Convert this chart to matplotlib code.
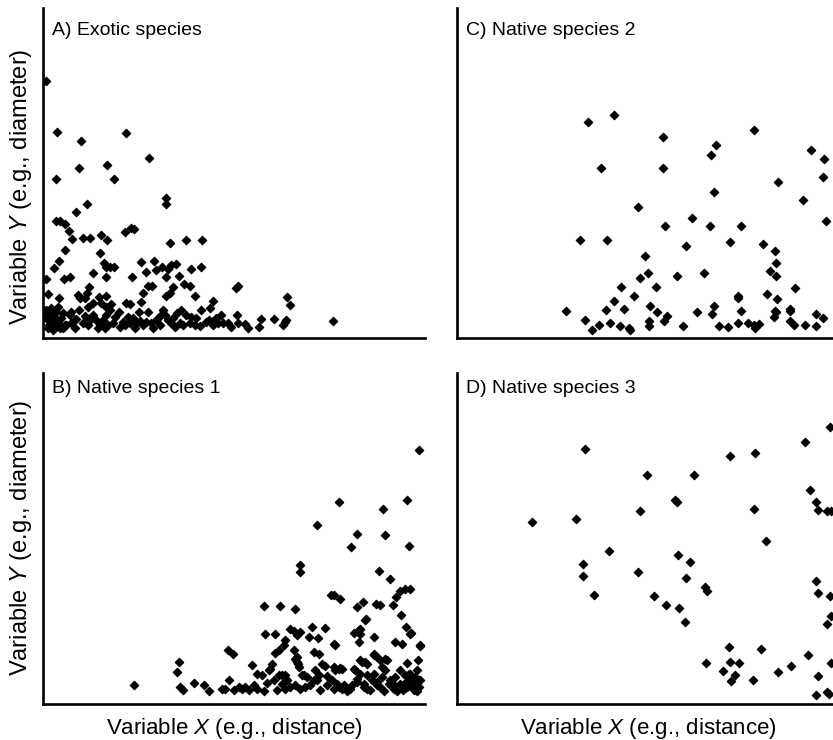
import matplotlib.pyplot as plt
import numpy as np

plt.rcParams['font.family'] = ['Liberation Sans', 'DejaVu Sans']
plt.rcParams['mathtext.fontset'] = 'custom'
plt.rcParams['mathtext.it'] = 'Liberation Sans:italic'
plt.rcParams['mathtext.rm'] = 'Liberation Sans'

# (distance, diameter) readings, arbitrary units; axes run 0-1146 by 0-991
exotic = [
    (8, 772), (42, 620), (115, 593), (248, 615), (317, 542), (108, 512), (193, 520), (39, 478), (213, 478),
    (370, 420), (370, 402), (131, 402), (98, 378), (38, 352), (50, 352), (65, 343), (77, 323), (87, 298),
    (120, 300), (140, 300), (175, 310), (193, 295), (245, 318), (265, 330), (273, 327), (382, 287),
    (430, 295), (477, 295), (65, 265), (172, 255), (47, 233), (32, 210), (183, 225), (190, 215),
    (202, 215), (212, 215), (293, 229), (333, 232), (358, 215), (375, 207), (385, 220), (400, 222),
    (445, 209), (475, 213), (8, 179), (63, 177), (80, 183), (150, 195), (190, 183), (268, 183),
    (310, 199), (340, 205), (370, 185), (407, 187), (422, 163), (442, 158), (578, 152), (586, 158),
    (315, 158), (327, 158), (390, 155), (138, 153), (132, 135), (127, 122), (15, 132), (48, 122),
    (105, 130), (112, 122), (168, 125), (188, 128), (300, 135), (368, 128), (380, 135), (455, 127),
    (732, 125), (742, 100), (511, 112), (248, 105), (260, 103), (293, 110),
    (870, 53), (692, 58), (655, 58), (648, 35), (720, 40), (725, 50), (730, 55), (605, 42), (582, 70),
    (585, 47), (500, 90), (497, 55), (510, 40), (525, 47), (540, 45), (555, 47), (518, 60), (470, 37),
    (445, 65), (460, 60), (475, 85), (415, 85), (430, 70), (410, 47), (420, 40), (360, 85), (365, 70),
    (375, 55), (385, 45), (390, 60), (340, 55), (350, 40), (325, 47), (310, 50), (300, 40), (290, 53),
    (280, 47), (270, 60), (260, 45), (245, 40), (240, 50), (315, 80), (288, 80), (255, 65), (200, 85),
    (190, 70), (180, 55), (170, 40), (160, 55), (150, 70), (140, 55), (135, 40), (165, 30), (185, 30),
    (195, 40), (210, 45), (215, 65), (135, 95), (150, 105), (175, 105), (188, 95), (205, 103),
    (100, 57), (85, 47), (80, 70), (70, 40), (10, 85), (20, 75), (30, 65), (15, 55), (25, 45), (35, 40),
    (45, 50), (55, 60), (60, 75), (40, 80), (50, 30), (15, 30), (30, 25), (65, 40), (10, 65), (25, 90),
    (45, 95), (60, 30), (35, 57), (18, 40), (85, 80), (108, 85),
    (120, 45), (230, 35), (275, 30), (330, 32), (395, 33), (440, 45), (488, 48), (565, 35), (615, 30),
    (95, 30), (125, 68), (228, 78), (352, 68), (402, 75), (455, 40), (535, 70),
]

native1 = [
    (1127, 761), (887, 604), (1092, 609), (1020, 582), (822, 536), (942, 509), (1027, 504), (924, 469),
    (1097, 472), (770, 414), (770, 394), (1007, 396), (1042, 372), (1070, 337), (1087, 344), (1100, 344),
    (864, 324), (872, 326), (892, 314), (942, 289), (960, 304), (1000, 299), (1012, 296), (1050, 294),
    (1060, 319), (662, 291), (710, 291), (757, 282), (970, 252), (1075, 264), (1090, 229), (1102, 209),
    (667, 209), (695, 209), (740, 224), (752, 217), (762, 204), (772, 214), (807, 229), (847, 226),
    (799, 199), (825, 196), (932, 211), (947, 221), (952, 209), (947, 184), (992, 199), (875, 176),
    (1057, 184), (1077, 179), (727, 189), (722, 174), (707, 161), (697, 151), (554, 161), (569, 149),
    (752, 159), (757, 134), (765, 119), (812, 154), (827, 149), (837, 119), (847, 111), (992, 149),
    (1002, 139), (1012, 129), (950, 129), (967, 124), (627, 114), (1092, 121), (687, 119), (680, 104),
    (887, 104), (897, 104), (407, 124), (402, 94), (642, 89), (657, 84), (717, 84), (727, 84), (777, 84),
    (852, 81), (272, 54), (412, 49), (420, 39), (452, 61), (484, 54), (497, 36), (537, 44), (547, 44),
    (557, 69), (587, 49), (597, 44), (607, 49), (617, 41), (632, 54), (642, 44), (677, 99), (692, 69),
    (707, 84), (717, 59), (727, 44), (742, 49), (757, 54), (772, 44), (787, 49), (802, 54), (762, 139),
    (762, 124), (767, 109), (782, 84), (792, 79), (817, 99), (827, 84), (822, 69), (867, 69), (852, 54),
    (872, 44), (882, 59), (897, 44), (872, 109), (927, 54), (942, 74), (952, 89), (962, 59), (972, 44),
    (987, 69), (992, 89), (1002, 64), (1012, 49), (1017, 79), (932, 104), (972, 119), (992, 144),
    (1032, 129), (1042, 69), (1052, 54), (1057, 79), (1072, 99), (1087, 84), (1097, 69), (1107, 79),
    (1117, 59), (1127, 69), (1092, 49), (1112, 44), (1082, 59), (1102, 89), (1122, 99), (1124, 129),
    (1130, 174), (967, 249), (952, 224), (1104, 212), (1132, 171), (872, 177), (1027, 132), (1017, 109),
    (1027, 99), (957, 124), (892, 107), (877, 99), (937, 99), (972, 84), (887, 49), (902, 54), (922, 44),
    (942, 64), (962, 49), (982, 39), (1002, 54), (1037, 59), (1052, 44), (1072, 59), (1087, 49),
    (1102, 64), (1112, 39), (1127, 49), (1132, 69), (1097, 89), (1117, 79),
    (572, 40), (662, 36), (702, 40), (832, 40), (912, 36), (1022, 36), (1062, 38), (1080, 40),
    (812, 69), (732, 69), (672, 60), (1122, 36), (1107, 54),
]

native2 = [
    (392, 648), (472, 670), (618, 603), (890, 625), (778, 580), (762, 551), (1063, 565), (1100, 538),
    (432, 510), (618, 511), (1098, 483), (963, 470), (772, 438), (1038, 415), (543, 393), (705, 360),
    (1107, 352), (625, 337), (758, 336), (853, 337), (370, 296), (450, 296), (820, 288), (918, 282),
    (687, 278), (953, 261), (565, 246), (957, 226), (938, 201), (957, 188), (572, 197), (548, 182),
    (660, 188), (742, 196), (492, 155), (598, 155), (1013, 151), (530, 127), (930, 133), (842, 128),
    (842, 120), (960, 118), (472, 113), (328, 83), (446, 86), (502, 87), (580, 96), (600, 78), (630, 68),
    (620, 51), (720, 78), (765, 73), (772, 96), (853, 81), (953, 83), (958, 78), (950, 65), (998, 88),
    (1000, 83), (1078, 73), (1097, 60), (385, 55), (404, 25), (426, 41), (458, 46), (488, 36), (515, 31),
    (520, 25), (577, 51), (577, 38), (677, 38), (787, 36), (812, 33), (843, 46), (872, 46), (890, 40),
    (895, 31), (905, 43), (1000, 53), (1012, 41), (1043, 41), (1078, 38),
]

native3 = [
    (1120, 828), (1045, 783), (383, 763), (820, 741), (893, 750), (570, 686), (710, 686), (1058, 641),
    (653, 610), (660, 605), (1078, 605), (1082, 581), (1110, 578), (1122, 578), (550, 576), (890, 582),
    (225, 545), (358, 553), (927, 486), (455, 458), (662, 445), (698, 423), (377, 418), (377, 383),
    (542, 395), (687, 376), (745, 350), (750, 336), (410, 325), (592, 321), (628, 295), (665, 286),
    (683, 243), (1078, 366), (1082, 330), (1118, 321), (1122, 263), (1110, 238), (817, 168), (913, 163),
    (1052, 145), (748, 121), (818, 125), (847, 121), (798, 98), (835, 86), (823, 66), (887, 71),
    (963, 95), (1003, 113), (1122, 121), (1082, 81), (1078, 25), (1110, 33), (1115, 28),
]

titles = ['A) Exotic species', 'B) Native species 1', 'C) Native species 2', 'D) Native species 3']
ylab = 'Variable $Y$ (e.g., diameter)'
xlab = 'Variable $X$ (e.g., distance)'

W, H = 833, 740
fig = plt.figure(figsize=(W / 100, H / 100), dpi=100)


def panel(left, top, pts, title, title_off, show_y, show_x, ylab_y=0.5):
    ax = fig.add_axes([left / W, 1 - (top + 330.5) / H, 382 / W, 330.5 / H])
    pts = np.array(pts)
    ax.scatter(pts[:, 0], pts[:, 1], marker='D', s=18, c='black', linewidths=0.9)
    ax.set_xlim(0, 1146)
    ax.set_ylim(0, 991)
    ax.set_xticks([])
    ax.set_yticks([])
    for s in ['top', 'right']:
        ax.spines[s].set_visible(False)
    for s in ['left', 'bottom']:
        ax.spines[s].set_linewidth(1.9)
    ax.text(0.024, 1 - title_off / 330.5, title, transform=ax.transAxes,
            fontsize=14, va='baseline', ha='left')
    if show_y:
        ax.set_ylabel(ylab, fontsize=17)
        ax.yaxis.set_label_coords(-0.024, ylab_y)
    if show_x:
        ax.set_xlabel(xlab, fontsize=16)
        ax.xaxis.set_label_coords(0.5, -0.038)
    return ax


panel(43, 8, exotic, titles[0], 27, True, False, 0.46)
panel(457, 8, native2, titles[2], 27, False, False)
panel(43, 373, native1, titles[1], 20, True, True, 0.5)
panel(457, 373, native3, titles[3], 20, False, True)

fig.savefig('out.png', dpi=100)
